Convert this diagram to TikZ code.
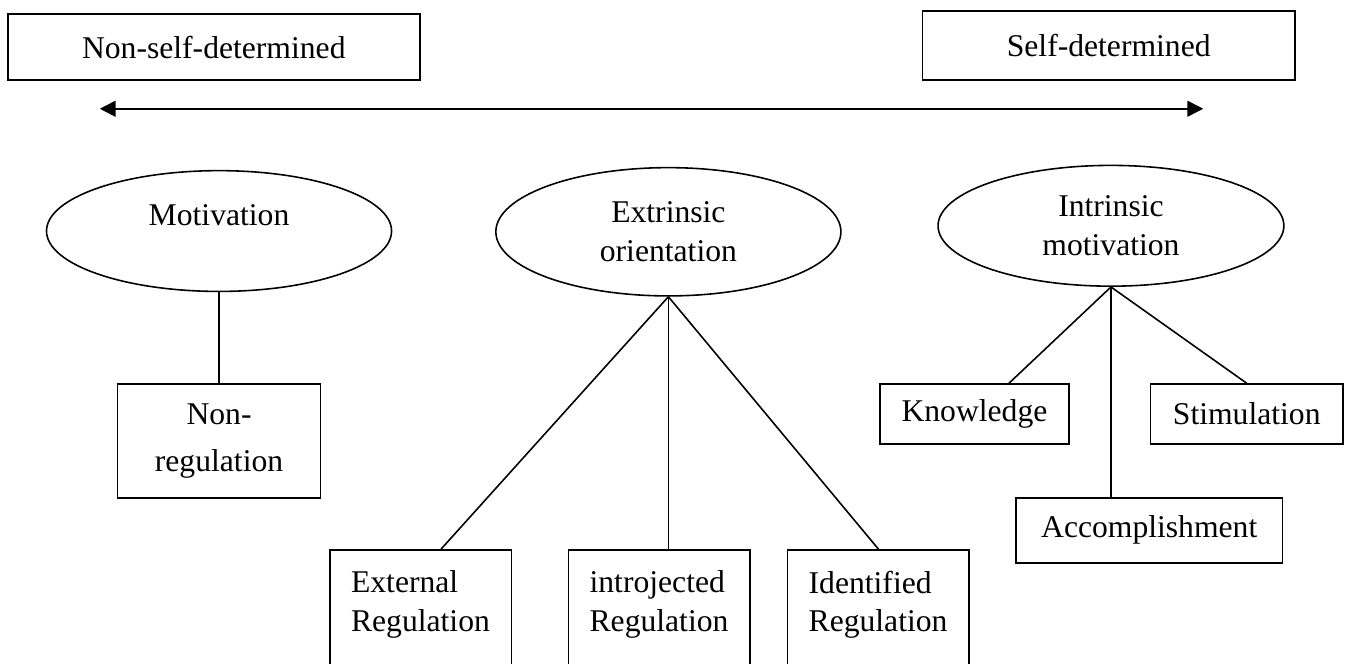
\documentclass[tikz,border=0pt]{standalone}
\usepackage{fontspec}
\setmainfont{Liberation Serif}
\usetikzlibrary{shapes.geometric}
\usetikzlibrary{arrows.meta}

\begin{document}
\begin{tikzpicture}[line width=0.6pt,
  font=\fontsize{12pt}{14.5pt}\selectfont,
  box/.style={draw, rectangle, inner sep=0pt},
  oval/.style={draw, ellipse, inner sep=0pt, align=center},
  regbox/.style={draw, rectangle, anchor=north, align=left, text width=1.86cm,
    inner xsep=0.28cm, inner ysep=8pt, text depth=50pt}]
\useasboundingbox (0,0) rectangle (18.05,8.84);
\clip (0,0) rectangle (18.05,8.84);
% scale
\node[box, minimum width=5.49cm, minimum height=0.88cm] (nsd) at (2.85,8.21) {Non-self-determined};
\node[box, minimum width=4.97cm, minimum height=0.92cm] (sd) at (14.78,8.23) {Self-determined};
\coordinate (lend) at (1.33,7.39);
\coordinate (rend) at (16.04,7.39);
\draw[{Triangle[length=6pt,width=6pt]}-{Triangle[length=6pt,width=6pt]}] (lend) -- (rend);
% ovals
\node[oval, minimum width=4.6cm, minimum height=1.61cm, text depth=12pt] (motiv) at (2.92,5.76) {Motivation};
\node[oval, minimum width=4.6cm, minimum height=1.71cm] (extr) at (8.91,5.75) {Extrinsic\\orientation};
\node[oval, minimum width=4.61cm, minimum height=1.61cm] (intr) at (14.81,5.83) {Intrinsic\\motivation};
% boxes
\node[box, minimum width=2.71cm, minimum height=1.52cm, align=center] (nonreg) at (2.92,2.96) {Non-\\[3pt]regulation};
\node[regbox] (ext) at (5.61,1.52) {External\\Regulation};
\node[regbox] (intro) at (8.79,1.52) {introjected\\Regulation};
\node[regbox] (ident) at (11.71,1.52) {Identified\\Regulation};
\node[box, minimum width=2.52cm, minimum height=0.8cm] (know) at (12.99,3.32) {Knowledge};
\node[box, minimum width=2.57cm, minimum height=0.8cm] (stim) at (16.62,3.32) {Stimulation};
\node[box, minimum width=3.55cm, minimum height=0.87cm] (acc) at (15.32,1.77) {Accomplishment};
% lines
\draw (motiv.south) -- (nonreg.north);
\draw (extr.south) -- ([xshift=0.27cm]ext.north);
\draw (extr.south) -- (extr.south |- intro.north);
\draw (extr.south) -- (ident.north);
\draw (intr.south) -- ([xshift=0.46cm]know.north);
\draw (intr.south) -- (intr.south |- acc.north);
\draw (intr.south) -- (stim.north);
\end{tikzpicture}
\end{document}
